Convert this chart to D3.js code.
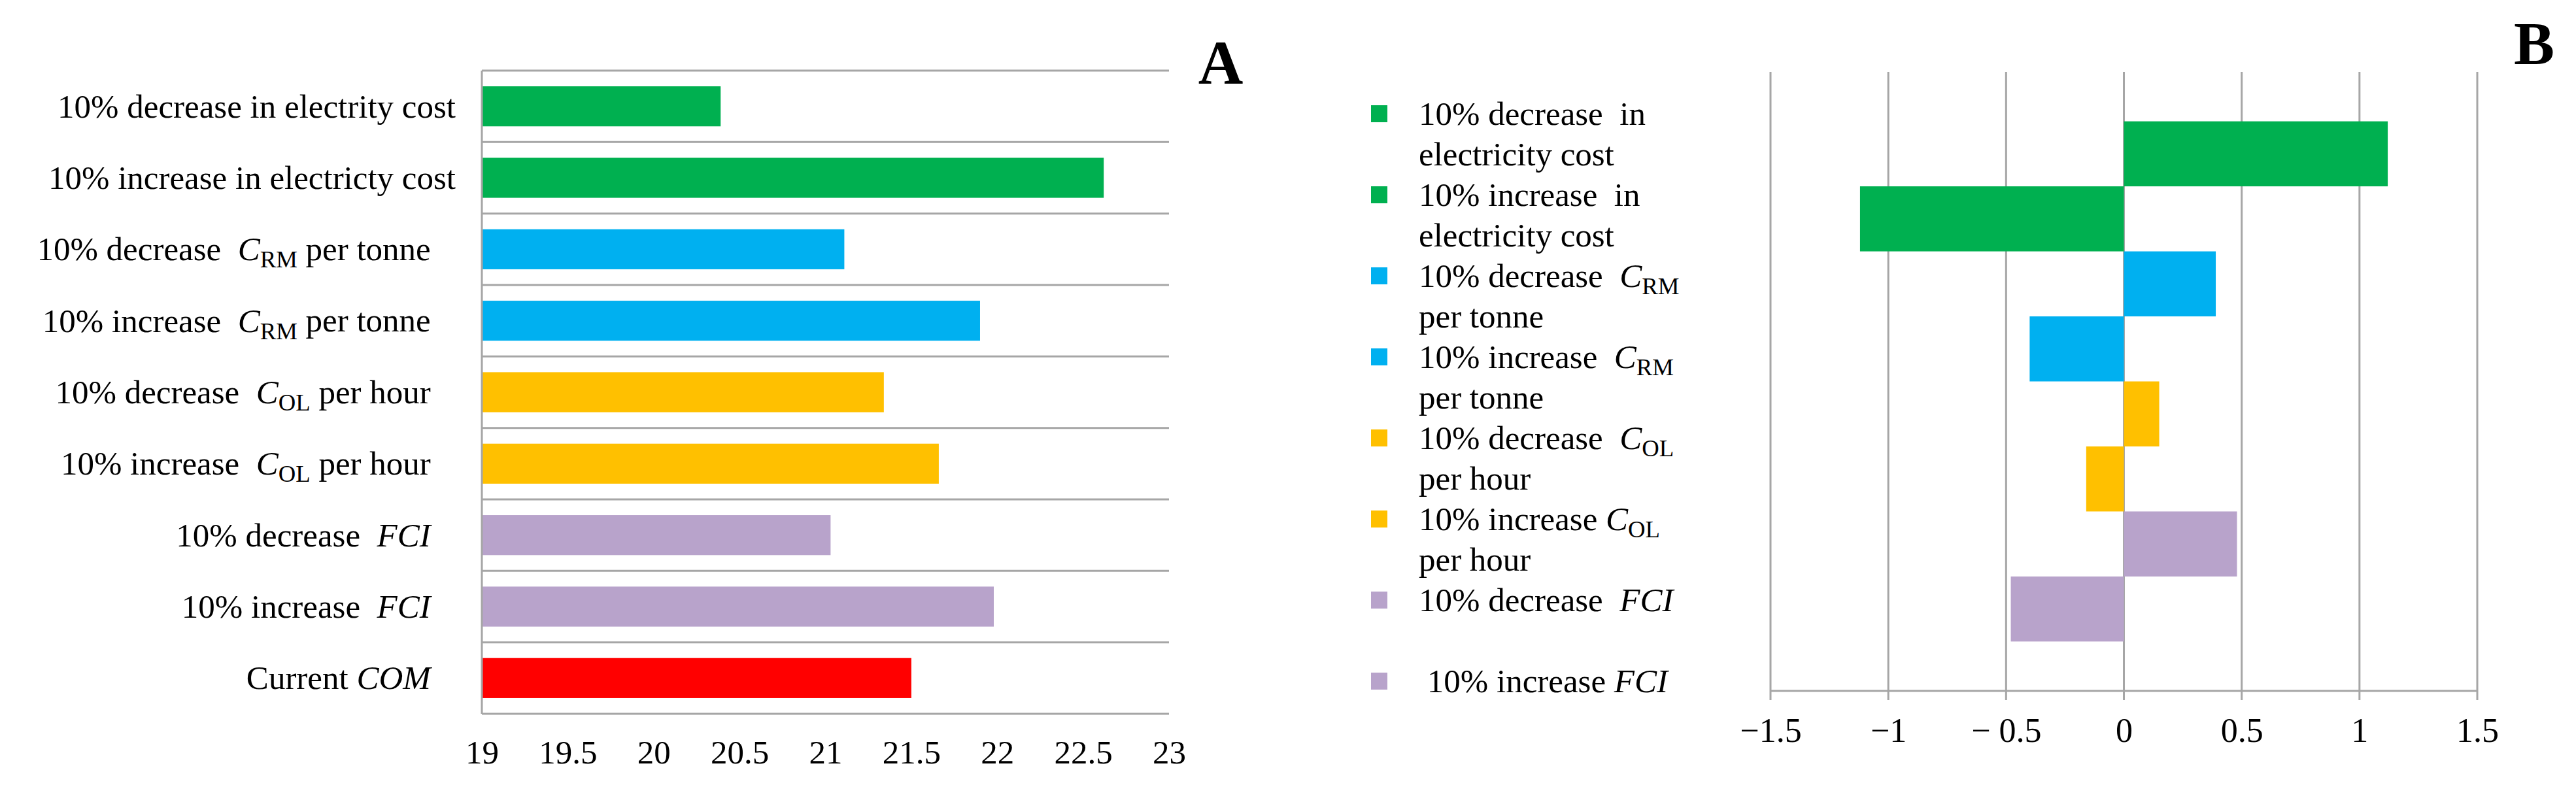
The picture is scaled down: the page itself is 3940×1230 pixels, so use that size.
<!DOCTYPE html>
<html>
<head>
<meta charset="utf-8">
<script src="https://cdn.jsdelivr.net/npm/d3@7"></script>
<style>
  body { margin: 0; background: #fff; }
  svg { display: block; }
  text { font-family: "Liberation Serif", "Times New Roman", serif; fill: #000; white-space: pre; }
</style>
</head>
<body>
<svg id="chart" width="3940" height="1230"></svg>
<script>
// *x* = italic, _x_ = subscript, | = line break
const categoriesA = [
  "10% decrease in electrity cost",
  "10% increase in electricty cost",
  "10% decrease  *C*_RM_ per tonne   ",
  "10% increase  *C*_RM_ per tonne   ",
  "10% decrease  *C*_OL_ per hour   ",
  "10% increase  *C*_OL_ per hour   ",
  "10% decrease  *FCI*   ",
  "10% increase  *FCI*   ",
  "Current *COM*   "
];
const valuesA = [20.39, 22.62, 21.11, 21.90, 21.34, 21.66, 21.03, 21.98, 21.50];
const colorsA = ["#00B050", "#00B050", "#00B0F0", "#00B0F0", "#FFC000", "#FFC000", "#B8A3CB", "#B8A3CB", "#FF0000"];
const ticksA = [19, 19.5, 20, 20.5, 21, 21.5, 22, 22.5, 23];

const seriesB = [
  "10% decrease  in|electricity cost",
  "10% increase  in|electricity cost",
  "10% decrease  *C*_RM_|per tonne",
  "10% increase  *C*_RM_|per tonne",
  "10% decrease  *C*_OL_|per hour",
  "10% increase *C*_OL_|per hour",
  "10% decrease  *FCI*",
  " 10% increase *FCI*"
];
const valuesB = [1.12, -1.12, 0.39, -0.40, 0.15, -0.16, 0.48, -0.48];
const colorsB = ["#00B050", "#00B050", "#00B0F0", "#00B0F0", "#FFC000", "#FFC000", "#B8A3CB", "#B8A3CB"];
const ticksB = [-1.5, -1, -0.5, 0, 0.5, 1, 1.5];
const tickLabelsB = ["\u22121.5", "\u22121", "\u2212 0.5", "0", "0.5", "1", "1.5"];

const svg = d3.select("#chart");
const gridColor = "#A6A6A6";

// write a label with italic / subscript parts into a text node
function richText(sel, str) {
  const parts = str.split(/(\*[^*]+\*|_[^_]+_)/).filter(p => p.length);
  let sub = false;
  parts.forEach(p => {
    const t = sel.append("tspan");
    if (p[0] === "*") {
      t.text(p.slice(1, -1)).style("font-style", "italic");
      if (sub) { t.attr("dy", "-0.22em"); sub = false; }
    } else if (p[0] === "_") {
      t.text(p.slice(1, -1)).attr("font-size", "0.72em").attr("dy", "0.3em");
      sub = true;
    } else {
      t.text(p);
      if (sub) { t.attr("dy", "-0.22em"); sub = false; }
    }
  });
}

// ---------- panel A ----------
const xA = d3.scaleLinear().domain([19, 23]).range([737, 1788]);
const yA = d3.scaleBand().domain(categoriesA).range([108, 1092]).paddingInner(0.44).paddingOuter(0.22);
const stepA = yA.step();
const gA = svg.append("g");

// horizontal grid lines at category boundaries
gA.selectAll("line.grid")
  .data(d3.range(categoriesA.length + 1))
  .enter().append("line")
  .attr("x1", xA(19)).attr("x2", xA(23))
  .attr("y1", i => 108 + i * stepA).attr("y2", i => 108 + i * stepA)
  .attr("stroke", gridColor).attr("stroke-width", 3);

gA.selectAll("rect")
  .data(categoriesA)
  .enter().append("rect")
  .attr("x", xA(19))
  .attr("y", d => yA(d))
  .attr("width", (d, i) => xA(valuesA[i]) - xA(19))
  .attr("height", yA.bandwidth())
  .attr("fill", (d, i) => colorsA[i]);

gA.append("line")
  .attr("x1", xA(19)).attr("x2", xA(19))
  .attr("y1", 108).attr("y2", 1092)
  .attr("stroke", gridColor).attr("stroke-width", 3);

gA.selectAll("text.cat")
  .data(categoriesA)
  .enter().append("text")
  .attr("class", "cat")
  .attr("x", 697)
  .attr("y", d => yA(d) + yA.bandwidth() / 2 + 17)
  .attr("text-anchor", "end")
  .attr("font-size", 51)
  .each(function(d) { richText(d3.select(this), d); });

const axisA = gA.append("g")
  .attr("transform", "translate(0,1092)")
  .call(d3.axisBottom(xA).tickValues(ticksA).tickSize(0).tickPadding(0).tickFormat(d => d));
axisA.select(".domain").remove();
axisA.selectAll("text")
  .attr("y", 76).attr("dy", null)
  .attr("font-size", 51)
  .style("font-family", "Liberation Serif, serif");

svg.append("text")
  .attr("x", 1867).attr("y", 128)
  .attr("text-anchor", "middle")
  .attr("font-size", 95).attr("font-weight", "bold")
  .text("A");

// ---------- panel B ----------
const xB = d3.scaleLinear().domain([-1.5, 1.5]).range([2708, 3789]);
const yB = d3.scaleBand().domain(seriesB).range([110, 1057]).paddingInner(0).paddingOuter(0.76);
const gB = svg.append("g");

gB.selectAll("line.grid")
  .data(ticksB)
  .enter().append("line")
  .attr("x1", d => xB(d)).attr("x2", d => xB(d))
  .attr("y1", 110).attr("y2", 1071)
  .attr("stroke", gridColor).attr("stroke-width", 3);

gB.append("line")
  .attr("x1", xB(-1.5)).attr("x2", xB(1.5))
  .attr("y1", 1057).attr("y2", 1057)
  .attr("stroke", gridColor).attr("stroke-width", 3);

gB.selectAll("rect")
  .data(seriesB)
  .enter().append("rect")
  .attr("x", (d, i) => xB(Math.min(0, valuesB[i])))
  .attr("y", d => yB(d))
  .attr("width", (d, i) => Math.abs(xB(valuesB[i]) - xB(0)))
  .attr("height", yB.bandwidth())
  .attr("fill", (d, i) => colorsB[i]);

const axisB = gB.append("g")
  .attr("transform", "translate(0,1057)")
  .call(d3.axisBottom(xB).tickValues(ticksB).tickSize(0).tickPadding(0)
    .tickFormat((d, i) => tickLabelsB[i]));
axisB.select(".domain").remove();
axisB.selectAll("text")
  .attr("y", 78).attr("dy", null)
  .attr("font-size", 52)
  .style("font-family", "Liberation Serif, serif");

// legend
const legend = gB.selectAll("g.leg")
  .data(seriesB)
  .enter().append("g")
  .attr("class", "leg")
  .attr("transform", (d, i) => `translate(2097,${174 + i * 124})`);

legend.append("rect")
  .attr("x", 0).attr("y", -13)
  .attr("width", 25).attr("height", 26)
  .attr("fill", (d, i) => colorsB[i]);

legend.each(function(d) {
  const lines = d.split("|");
  lines.forEach((ln, j) => {
    const t = d3.select(this).append("text")
      .attr("x", 73)
      .attr("y", 17 + j * 62)
      .attr("font-size", 51);
    richText(t, ln);
  });
});

svg.append("text")
  .attr("x", 3845).attr("y", 98)
  .attr("font-size", 93).attr("font-weight", "bold")
  .text("B");
</script>
</body>
</html>
